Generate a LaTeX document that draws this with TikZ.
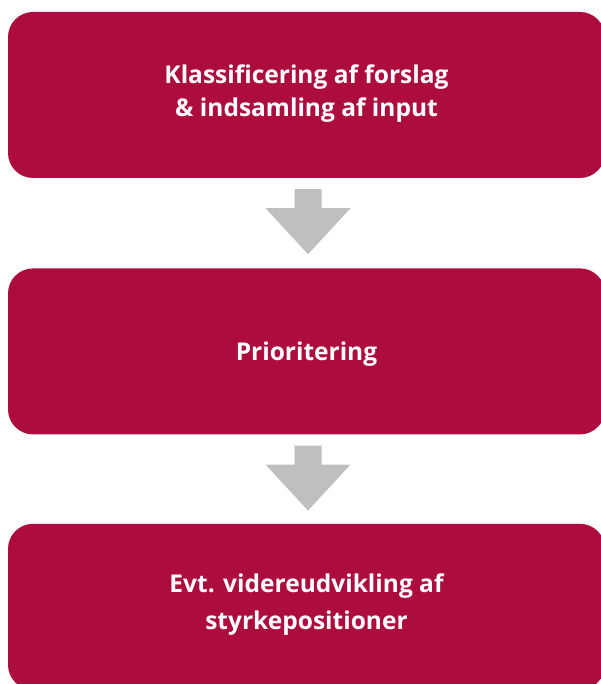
\documentclass[tikz,border=0pt]{standalone}
\usepackage{fontspec}
\setmainfont{Open Sans}
\usetikzlibrary{positioning,calc}
\definecolor{flowred}{RGB}{173,13,62}
\definecolor{flowgray}{RGB}{191,191,191}
\tikzset{
    flow box/.style={
        rectangle,
        rounded corners=25pt,
        fill=flowred,
        draw=none,
        minimum width=597pt,
        minimum height=166pt,
        inner sep=0pt,
    },
    flow text/.style={
        align=center,
        text=white,
        inner sep=0pt,
        font=\bfseries\fontsize{24.5}{33}\selectfont,
    },
    flow arrow/.style={fill=flowgray, draw=none}
}
\begin{document}
\begin{tikzpicture}[x=1pt,y=-1pt]
\useasboundingbox (0,0) rectangle (601,684);

%Boxes of the flow, top to bottom
\node[flow box] (klass) at (306.5,95) {};
\node[flow box, below=90pt of klass] (prio) {};
\node[flow box, below=89pt of prio] (udv) {};

\node[flow text] (klass-text) at ($(klass.center)+(0,-1)$) {Klassificering af forslag\\\& indsamling af input};
\node[flow text] (prio-text) at ($(prio.center)+(0,2.5)$) {Prioritering};
\node[flow text] (udv-text) at ($(udv.center)+(0,-2)$) {Evt. videreudvikling af\\[4pt]styrkepositioner};

%Block arrows between the boxes
\fill[flow arrow] ($(klass.south)+(-12,11)$) -- ($(klass.south)+(15,11)$) -- ($(klass.south)+(15,30)$) -- ($(klass.south)+(44,30)$) -- ($(klass.south)+(1.5,76)$) -- ($(klass.south)+(-41,30)$) -- ($(klass.south)+(-12,30)$) -- cycle;
\fill[flow arrow] ($(prio.south)+(-12,11)$) -- ($(prio.south)+(15,11)$) -- ($(prio.south)+(15,30)$) -- ($(prio.south)+(44,30)$) -- ($(prio.south)+(1.5,76)$) -- ($(prio.south)+(-41,30)$) -- ($(prio.south)+(-12,30)$) -- cycle;

\end{tikzpicture}
\end{document}
